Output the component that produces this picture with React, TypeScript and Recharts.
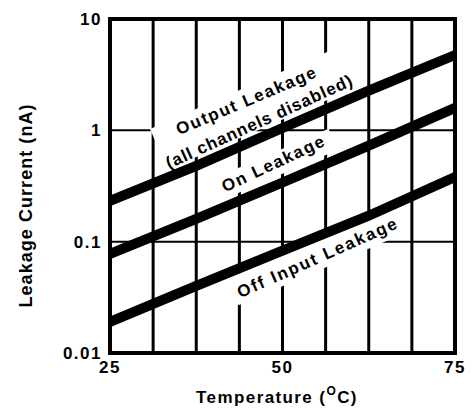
import React from 'react';
import { LineChart, Line, XAxis, YAxis, ReferenceLine, ReferenceArea } from 'recharts';

const temps = [25, 37.5, 50, 62.5, 75];
const outputLeakage = [0.233, 0.48, 1.05, 2.27, 4.75];
const onLeakage = [0.0775, 0.16, 0.34, 0.73, 1.59];
const offInputLeakage = [0.019, 0.04, 0.083, 0.171, 0.381];
const xTicks = [25, 50, 75];
const yTicks = [0.01, 0.1, 1, 10];
const xGrid = [31.25, 37.5, 43.75, 50, 56.25, 62.5, 68.75];
const yGrid = [0.1, 1];
const curveLabels = ['Output Leakage', '(all channels disabled)', 'On Leakage', 'Off Input Leakage'];

const data = temps.map((t, i) => ({
  t,
  out: outputLeakage[i],
  on: onLeakage[i],
  off: offInputLeakage[i],
}));

const W = 476;
const H = 412;
const FONT = '"Liberation Sans", Arial, Helvetica, sans-serif';

const tickStyle = { fontSize: 17, fontWeight: 'bold' as const, fill: '#000', fontFamily: FONT, letterSpacing: 1.5 };

const labelPos = [
  { x: 246, y: 101, a: -23, len: 150 },
  { x: 259, y: 122, a: -24.5, len: 203 },
  { x: 273, y: 164, a: -25, len: 111 },
  { x: 317, y: 258, a: -24, len: 173 },
];

const bands = [
  { x: 256, y: 107, w: 212, h: 44, a: -23.5 },
  { x: 274.5, y: 164.7, w: 128, h: 23, a: -23.5 },
  { x: 317.6, y: 255, w: 185, h: 29, a: -23.5 },
];

export default function App() {
  return (
    <div style={{ position: 'absolute', left: 0, top: 0, width: W, height: H, background: '#fff' }}>
      <div style={{ position: 'absolute', left: 0, top: 0 }}>
        <LineChart width={W} height={H} data={data} margin={{ top: 19, right: 21, left: 0, bottom: 29 }}>
          <XAxis
            dataKey="t"
            type="number"
            domain={[25, 75]}
            ticks={xTicks}
            axisLine={false}
            tickLine={false}
            tickSize={0}
            tickMargin={8}
            height={30}
            tick={tickStyle}
            interval={0}
          />
          <YAxis
            type="number"
            scale="log"
            domain={[0.01, 10]}
            ticks={yTicks}
            allowDataOverflow
            axisLine={false}
            tickLine={false}
            tickSize={0}
            tickMargin={8}
            width={110}
            tick={tickStyle}
            interval={0}
          />
          {xGrid.map((x) => (
            <ReferenceLine key={'vx' + x} x={x} stroke="#000" strokeWidth={3} />
          ))}
          {yGrid.map((y) => (
            <ReferenceLine key={'hy' + y} y={y} stroke="#000" strokeWidth={2} />
          ))}
          <ReferenceArea x1={25} x2={75} y1={0.01} y2={10} fill="none" fillOpacity={0} stroke="#000" strokeWidth={4} ifOverflow="visible" />
        </LineChart>
      </div>
      <svg width={W} height={H} style={{ position: 'absolute', left: 0, top: 0 }}>
        {bands.map((b, i) => (
          <rect
            key={'b' + i}
            x={-b.w / 2}
            y={-b.h / 2}
            width={b.w}
            height={b.h}
            fill="#fff"
            transform={`translate(${b.x},${b.y}) rotate(${b.a})`}
          />
        ))}
        {curveLabels.map((s, i) => (
          <text
            key={'l' + i}
            transform={`translate(${labelPos[i].x},${labelPos[i].y}) rotate(${labelPos[i].a})`}
            textAnchor="middle"
            dominantBaseline="central"
            fontFamily={FONT}
            fontWeight="bold"
            fontSize={17}
            textLength={labelPos[i].len}
            lengthAdjust="spacing"
            fill="#000"
          >
            {s}
          </text>
        ))}
        <text
          transform="translate(32,206) rotate(-90)"
          textAnchor="middle"
          fontFamily={FONT}
          fontWeight="bold"
          fontSize={18}
          textLength={203}
          lengthAdjust="spacing"
          fill="#000"
        >
          Leakage Current (nA)
        </text>
        <text x={277} y={403} textAnchor="middle" fontFamily={FONT} fontWeight="bold" fontSize={17} letterSpacing={1.4} fill="#000">
          <tspan>Temperature (</tspan>
          <tspan fontSize={12} dy={-8}>O</tspan>
          <tspan dy={8}>C)</tspan>
        </text>
      </svg>
      <div style={{ position: 'absolute', left: 0, top: 0 }}>
        <LineChart width={W} height={H} data={data} margin={{ top: 19, right: 21, left: 110, bottom: 59 }}>
          <XAxis dataKey="t" type="number" domain={[25, 75]} hide />
          <YAxis type="number" scale="log" domain={[0.01, 10]} allowDataOverflow hide />
          <Line dataKey="out" type="linear" stroke="#000" strokeWidth={10} dot={false} isAnimationActive={false} />
          <Line dataKey="on" type="linear" stroke="#000" strokeWidth={10} dot={false} isAnimationActive={false} />
          <Line dataKey="off" type="linear" stroke="#000" strokeWidth={10} dot={false} isAnimationActive={false} />
        </LineChart>
      </div>
    </div>
  );
}
